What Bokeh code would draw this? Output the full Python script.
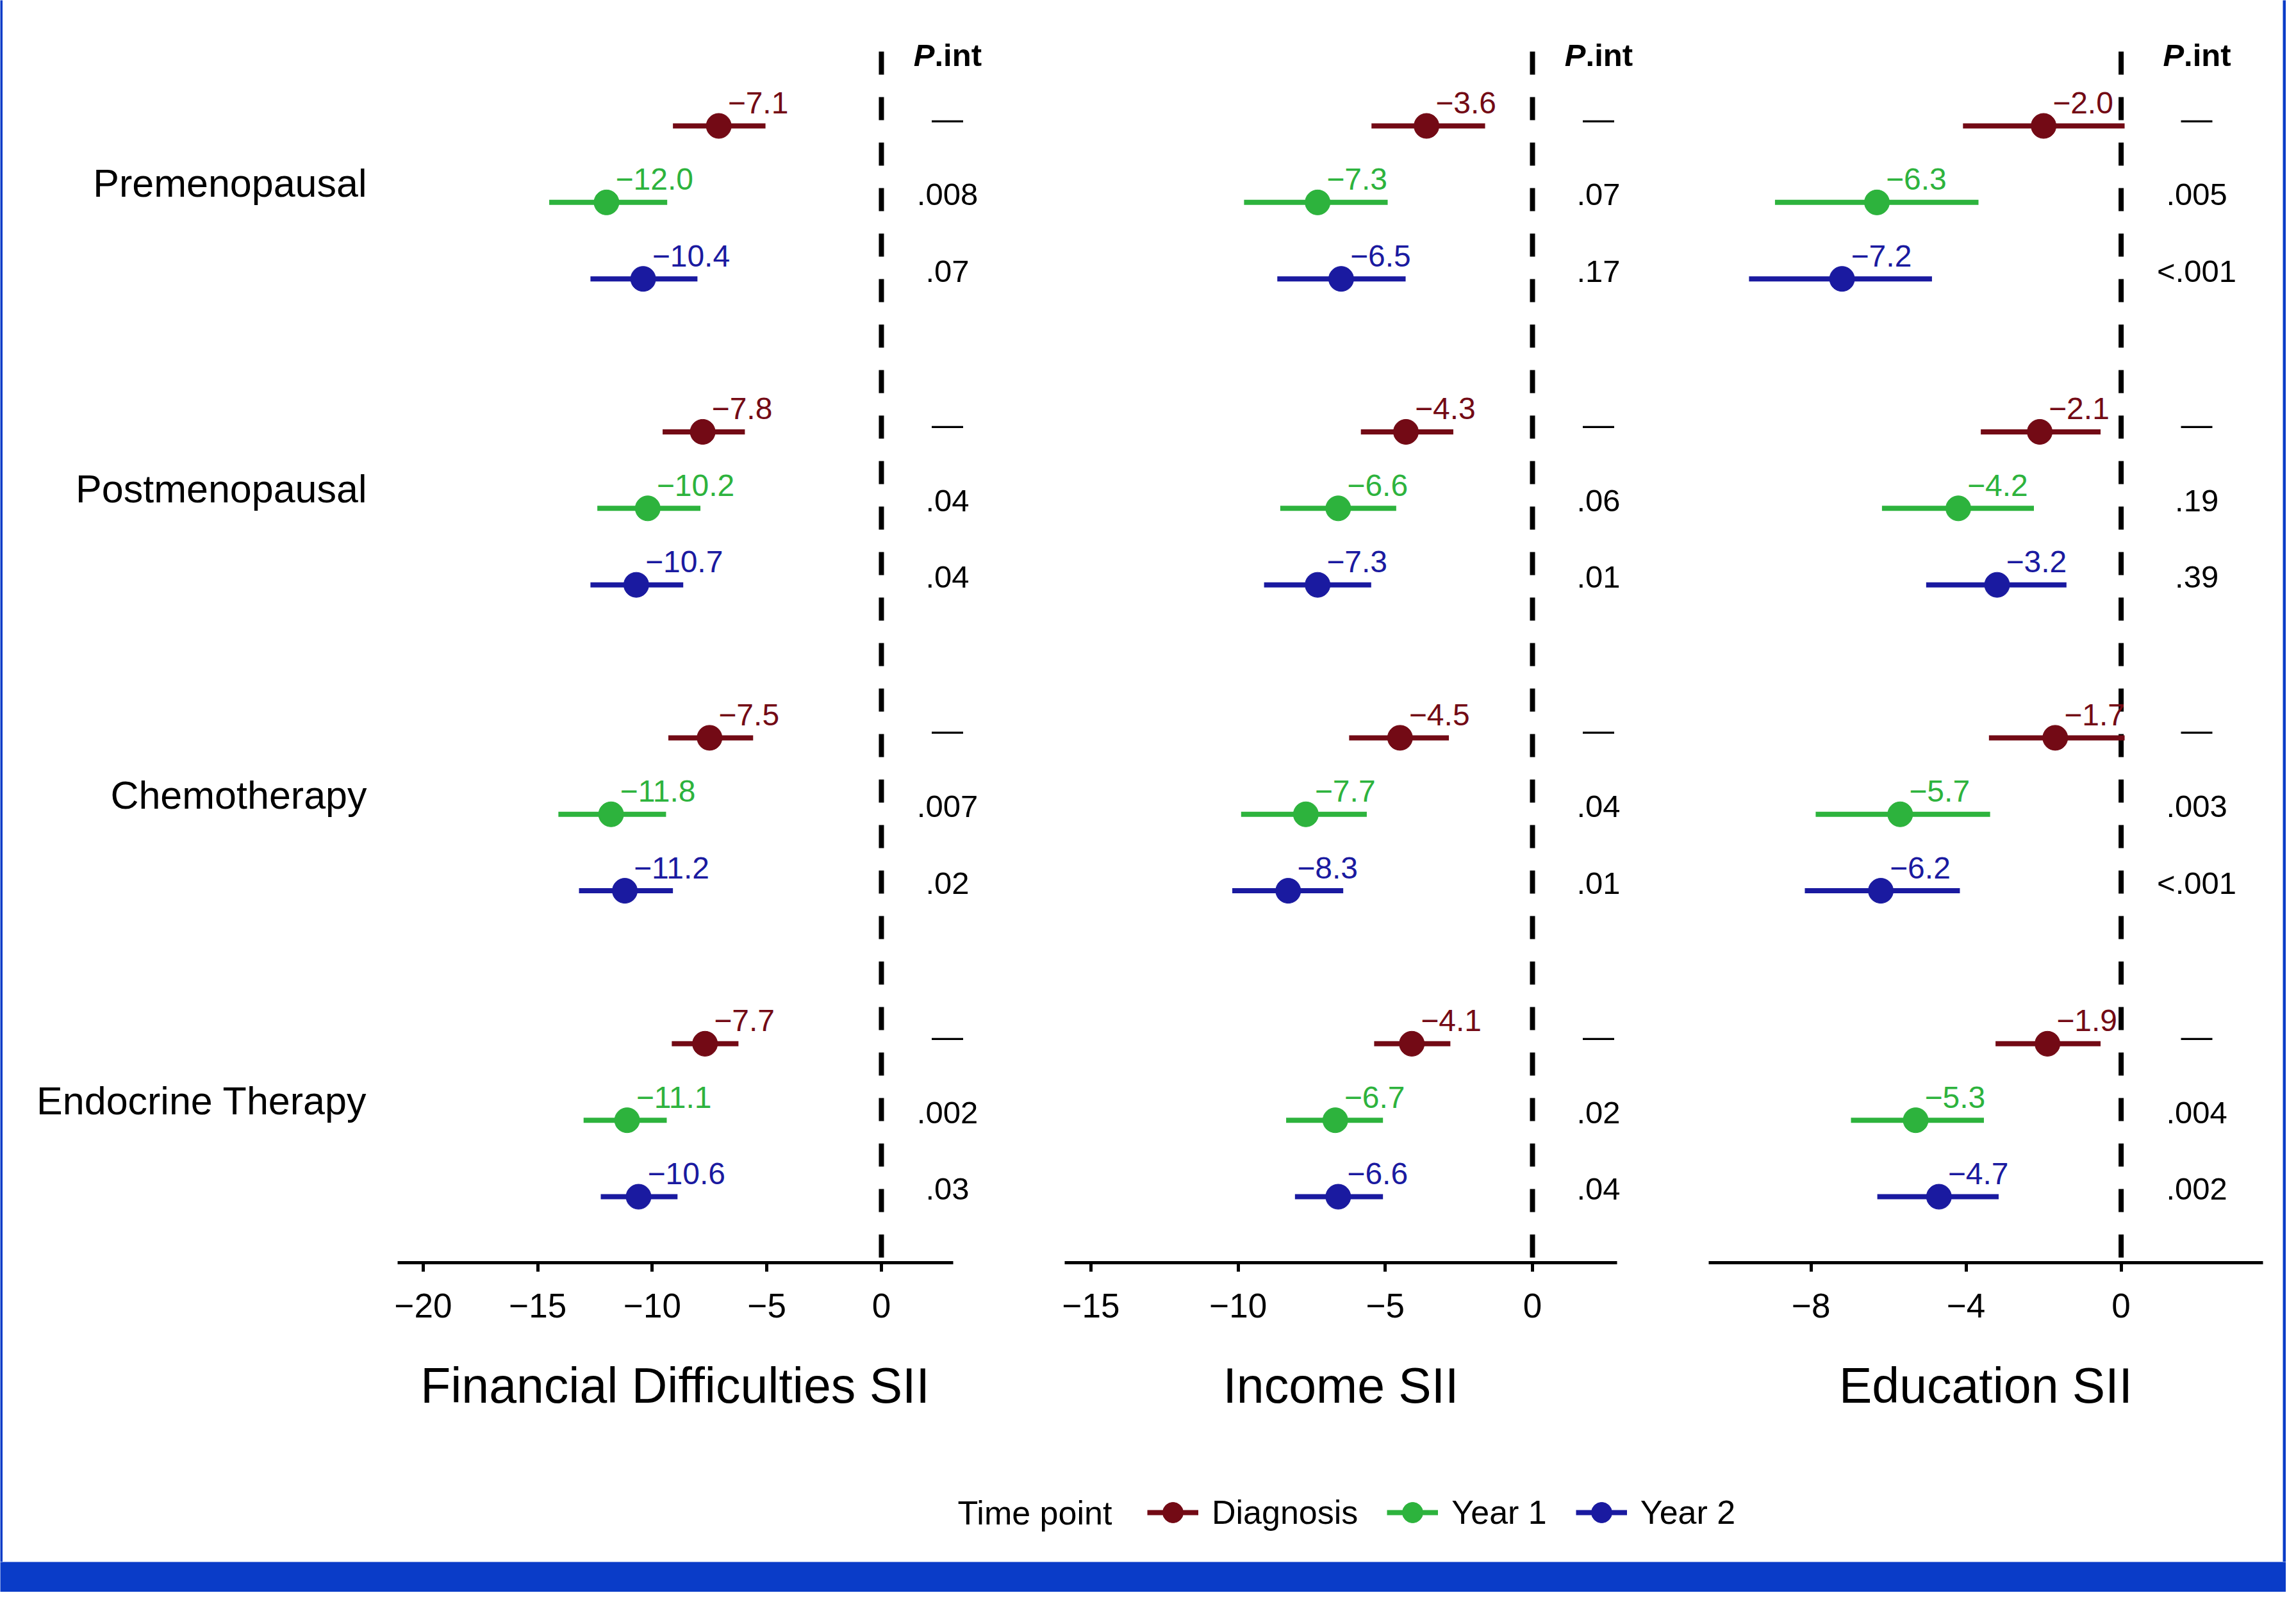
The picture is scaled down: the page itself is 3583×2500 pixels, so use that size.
from bokeh.plotting import figure
from bokeh.layouts import row, column
from bokeh.models import (Range1d, FixedTicker, CustomJSTickFormatter, Label,
                          ColumnDataSource, Legend, LegendItem)
from bokeh.core.properties import value
from bokeh.embed import file_html
from bokeh.resources import INLINE

# ---------------- data ----------------
groups = ["Premenopausal", "Postmenopausal", "Chemotherapy", "Endocrine Therapy"]
timepoints = ["Diagnosis", "Year 1", "Year 2"]
colors = ["#730A15", "#2DB33D", "#1A1AA0"]

panel_titles = ["Financial Difficulties SII", "Income SII", "Education SII"]
panel_ticks = [[-20, -15, -10, -5, 0], [-15, -10, -5, 0], [-8, -4, 0]]
axis_bounds = [(-21.11, 3.12), (-15.89, 2.87), (-10.64, 3.66)]
panel_xrange = [(-22.46, 4.448), (-16.525, 3.505), (-10.64, 3.66)]

# order: for each group -> Diagnosis, Year 1, Year 2
fin_est = [-7.1, -12.0, -10.4, -7.8, -10.2, -10.7, -7.5, -11.8, -11.2, -7.7, -11.1, -10.6]
fin_lo = [-9.1, -14.5, -12.7, -9.55, -12.4, -12.7, -9.3, -14.1, -13.2, -9.15, -13.0, -12.25]
fin_hi = [-5.06, -9.35, -8.03, -5.96, -7.9, -8.65, -5.6, -9.4, -9.1, -6.24, -9.37, -8.9]
fin_p = ["—", ".008", ".07", "—", ".04", ".04", "—", ".007", ".02", "—", ".002", ".03"]

inc_est = [-3.6, -7.3, -6.5, -4.3, -6.6, -7.3, -4.5, -7.7, -8.3, -4.1, -6.7, -6.6]
inc_lo = [-5.47, -9.8, -8.67, -5.83, -8.57, -9.12, -6.23, -9.9, -10.2, -5.38, -8.37, -8.07]
inc_hi = [-1.61, -4.92, -4.31, -2.69, -4.63, -5.48, -2.84, -5.63, -6.43, -2.79, -5.08, -5.08]
inc_p = ["—", ".07", ".17", "—", ".06", ".01", "—", ".04", ".01", "—", ".02", ".04"]

edu_est = [-2.0, -6.3, -7.2, -2.1, -4.2, -3.2, -1.7, -5.7, -6.2, -1.9, -5.3, -4.7]
edu_lo = [-4.08, -8.93, -9.6, -3.62, -6.17, -5.03, -3.41, -7.88, -8.16, -3.24, -6.97, -6.29]
edu_hi = [0.09, -3.68, -4.88, -0.53, -2.25, -1.41, 0.09, -3.38, -4.16, -0.53, -3.54, -3.16]
edu_p = ["—", ".005", "<.001", "—", ".19", ".39", "—", ".003", "<.001", "—", ".004", ".002"]

# ---------------- style / layout ----------------
BLUE = "#0A3CC8"
FONT = "Liberation Sans"
FIG_H = 2286
MB_TOP = 46
MB_BOTTOM = 320
FRAME_H = FIG_H - MB_TOP - MB_BOTTOM
Y_START, Y_END = 14.8626, -1.2232     # flipped slot axis (bottom, top)
VLINE_TOP = -0.972
PX_SLOT = FRAME_H / (Y_START - Y_END)
HEADER_DY = -111                       # header centre relative to first row (px)
LAB_DX, LAB_DY = 14, -36               # value label offset (px)
P_DY = -12                             # p-value centre offset (px)
P_OFFSETS = [103, 103, 118]
fig_widths = [1586, 1010, 962]
mb_lefts = [568, 42, 66]
mb_rights = [56, 48, 31]

minus_fmt = CustomJSTickFormatter(code="return tick < 0 ? '\u2212' + Math.abs(tick) : tick.toString();")


def slots():
    ys, cs = [], []
    for g in range(len(groups)):
        for i in range(len(timepoints)):
            ys.append(4 * g + i)
            cs.append(colors[i])
    return ys, cs


def make_panel(k, est, lo, hi, pv):
    show_y = (k == 0)
    xr = panel_xrange[k]
    frame_w = fig_widths[k] - mb_lefts[k] - mb_rights[k]
    upx = (xr[1] - xr[0]) / frame_w          # data units per screen px (x)
    upy = 1.0 / PX_SLOT                      # data units per screen px (y)

    p = figure(width=fig_widths[k], height=FIG_H,
               x_range=Range1d(*xr), y_range=Range1d(Y_START, Y_END),
               toolbar_location=None, output_backend="svg",
               min_border_left=mb_lefts[k], min_border_right=mb_rights[k],
               min_border_top=MB_TOP, min_border_bottom=MB_BOTTOM,
               y_axis_location="left" if show_y else None,
               outline_line_color=None, background_fill_color="white", border_fill_color="white")
    p.xgrid.visible = False
    p.ygrid.visible = False

    ys, cs = slots()
    labs = [f"{v:.1f}".replace("-", "\u2212") for v in est]
    src = ColumnDataSource(dict(
        est=est, lo=lo, hi=hi, y=ys, color=cs, lab=labs, p=pv,
        lab_x=[v + LAB_DX * upx for v in est], lab_y=[y + LAB_DY * upy for y in ys],
        p_x=[P_OFFSETS[k] * upx] * len(ys), p_y=[y + P_DY * upy for y in ys]))

    # reference line at zero, spanning the panel
    p.segment(x0=0, y0=VLINE_TOP, x1=0, y1=Y_START, line_color="black", line_width=8,
              line_dash="36 35", level="underlay")

    p.segment(x0="lo", y0="y", x1="hi", y1="y", source=src, line_color="color", line_width=8)
    p.scatter(x="est", y="y", source=src, size=39, fill_color="color", line_color="color", line_width=1)
    p.text(x="lab_x", y="lab_y", text="lab", source=src, text_color="color",
           text_font=value(FONT), text_font_size="48px", text_align="left",
           text_baseline="middle")

    p.text(x="p_x", y="p_y", text="p", source=src, text_color="black",
           text_font=value(FONT), text_font_size="49px", text_align="center",
           text_baseline="middle")
    hx = (P_OFFSETS[k] - 20) * upx
    hy = HEADER_DY * upy
    p.text(x=[hx], y=[hy], text=["P"], text_align="right", text_baseline="middle",
           text_font=value(FONT), text_font_size="49px", text_font_style="bold italic",
           text_color="black")
    p.text(x=[hx], y=[hy], text=[".int"], text_align="left", text_baseline="middle",
           text_font=value(FONT), text_font_size="49px", text_font_style="bold",
           text_color="black")

    ax = p.xaxis[0]
    ax.bounds = axis_bounds[k]
    ax.ticker = FixedTicker(ticks=panel_ticks[k], minor_ticks=[])
    ax.formatter = minus_fmt
    ax.axis_line_width = 5
    ax.axis_line_color = "black"
    ax.major_tick_line_width = 5
    ax.major_tick_line_color = "black"
    ax.major_tick_out = 14
    ax.major_tick_in = 0
    ax.minor_tick_line_color = None
    ax.major_label_text_font = FONT
    ax.major_label_text_font_size = "53px"
    ax.major_label_text_color = "black"
    ax.major_label_standoff = 34
    ax.axis_label = panel_titles[k]
    ax.axis_label_text_font = FONT
    ax.axis_label_text_font_size = "77px"
    ax.axis_label_text_font_style = "normal"
    ax.axis_label_text_color = "black"
    ax.axis_label_standoff = 60

    if show_y:
        yax = p.yaxis[0]
        yax.ticker = FixedTicker(ticks=[4 * g + 0.75 for g in range(len(groups))], minor_ticks=[])
        yax.formatter = CustomJSTickFormatter(args=dict(labels=groups),
                                              code="return labels[Math.round((tick - 0.75) / 4)];")
        yax.axis_line_color = None
        yax.major_tick_line_color = None
        yax.minor_tick_line_color = None
        yax.major_tick_out = 0
        yax.major_tick_in = 0
        yax.major_label_standoff = 0
        yax.major_label_text_font = FONT
        yax.major_label_text_font_size = "61px"
        yax.major_label_text_color = "black"
    return p


def strip(w, h):
    s = figure(width=w, height=h, toolbar_location=None, output_backend="svg",
               x_axis_location=None, y_axis_location=None, min_border=0,
               outline_line_color=None, background_fill_color=BLUE, border_fill_color=BLUE)
    s.xgrid.visible = False
    s.ygrid.visible = False
    return s


p1 = make_panel(0, fin_est, fin_lo, fin_hi, fin_p)
p2 = make_panel(1, inc_est, inc_lo, inc_hi, inc_p)
p3 = make_panel(2, edu_est, edu_lo, edu_hi, edu_p)

# legend figure
LEG_H = 147
leg = figure(width=3558, height=LEG_H, toolbar_location=None, output_backend="svg",
             x_axis_location=None, y_axis_location=None, min_border=0,
             outline_line_color=None, x_range=Range1d(0, 1), y_range=Range1d(0, 1))
leg.xgrid.visible = False
leg.ygrid.visible = False
items = []
for name, c in zip(timepoints, colors):
    s = ColumnDataSource(dict(x=[float("nan")], y=[float("nan")]))
    r1 = leg.segment(x0="x", y0="y", x1="x", y1="y", source=s, line_color=c, line_width=8)
    r2 = leg.scatter(x="x", y="y", source=s, fill_color=c, line_color=c, size=32)
    items.append(LegendItem(label=name, renderers=[r1, r2]))
legend = Legend(items=items, orientation="horizontal", location=(1786, 32),
                glyph_width=80, glyph_height=90, label_height=90, label_standoff=21, spacing=45,
                padding=0, margin=0, border_line_color=None, background_fill_alpha=0,
                label_text_font=FONT, label_text_font_size="52px", label_text_color="black")
leg.add_layout(legend)
leg.add_layout(Label(x=1490, y=77, x_units="screen", y_units="screen", text="Time point",
                     text_baseline="middle", text_align="left", text_font=FONT,
                     text_font_size="52px", text_color="black"))

inner = column(strip(3558, 4), row(p1, p2, p3), leg)
side_h = 4 + FIG_H + LEG_H
mid = row(strip(4, side_h), inner, strip(5, side_h))
page = column(mid, strip(3567, 2484 - side_h))

open("out.html", "w").write(file_html(page, INLINE))
